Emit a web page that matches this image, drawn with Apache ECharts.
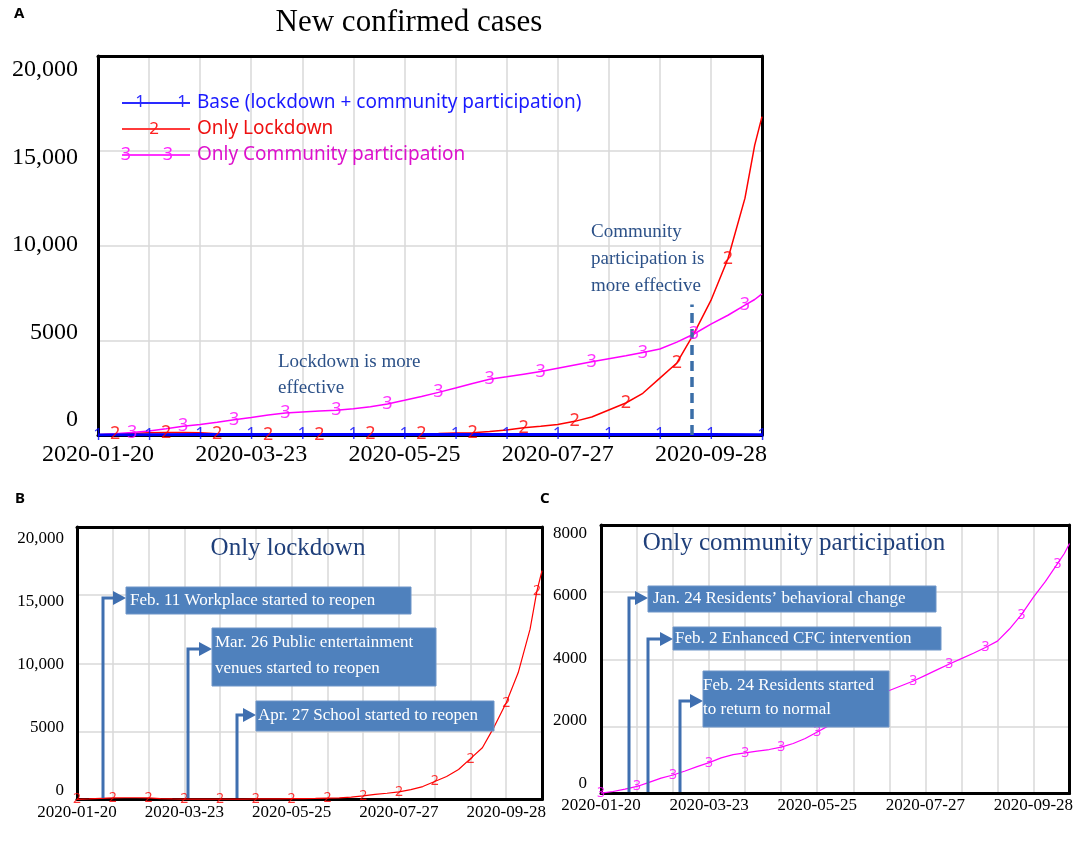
<!DOCTYPE html>
<html>
<head>
<meta charset="utf-8">
<script src="https://cdn.jsdelivr.net/npm/echarts@6/dist/echarts.min.js"></script>
<style>
  html, body { margin: 0; padding: 0; background: #fff; }
  #main { width: 1084px; height: 841px; }
</style>
</head>
<body>
<div id="main"></div>
<script>
// 图表容器
let chart = echarts.init(document.getElementById('main'));

// x轴：距2020-01-20的天数
let xTickLabels = ['2020-01-20', '2020-03-23', '2020-05-25', '2020-07-27', '2020-09-28'];
let yTickLabelsBig = ['0', '5000', '10,000', '15,000', '20,000'];
let yTickLabelsC = ['0', '2000', '4000', '6000', '8000'];

// 曲线采样日（每周一点，另加第270天）
let days = [0, 7, 14, 21, 28, 35, 42, 49, 56, 63, 70, 77, 84, 91, 98, 105, 112, 119, 126, 133,
    140, 147, 154, 161, 168, 175, 182, 189, 196, 203, 210, 217, 224, 231, 238, 245, 252, 259, 266, 270, 273];
// 只封城
let onlyLockdown = [10, 40, 80, 120, 130, 130, 120, 60, 40, 30, 30, 30, 30, 30, 30, 40, 40, 50, 60, 70,
    80, 100, 120, 180, 270, 380, 460, 560, 720, 950, 1320, 1690, 2200, 3000, 3800, 5350, 7100, 9300, 12500, 15300, 16800];
// 只社区参与
let onlyCommunity = [10, 60, 130, 210, 330, 460, 550, 670, 800, 920, 1060, 1160, 1210, 1260, 1310, 1380, 1490, 1640, 1830, 2030,
    2250, 2480, 2720, 2940, 3070, 3210, 3350, 3520, 3690, 3860, 4020, 4180, 4350, 4540, 4900, 5330, 5850, 6320, 6850, 7150, 7450];
// 基准（封城+社区参与）
let baseDays = [0, 21, 42, 63, 84, 105, 126, 147, 168, 189, 210, 231, 252, 273];
let base = [0, 15, 20, 20, 20, 20, 20, 20, 20, 20, 20, 20, 20, 15];

// 数字标记所在的天
let markRedA = [7, 28, 49, 70, 91, 112, 133, 154, 175, 196, 217, 238, 259];
let markPinkA = [14, 35, 56, 77, 98, 119, 140, 161, 182, 203, 224, 245, 266];
let markRedB = [0, 21, 42, 63, 84, 105, 126, 147, 168, 189, 210, 231, 252, 270];
let markPinkC = [0, 21, 42, 63, 84, 105, 126, 147, 161, 182, 203, 224, 245, 266];

// 虚线位置
let dashDay = 244;
let dashTop = 6880;

let serif = '"Liberation Serif", "Times New Roman", serif';
let sans = '"Noto Sans", "DejaVu Sans", sans-serif';
let annoBlue = '#2c5188';

function pairs(xs, ys) {
    let res = [];
    for (let i = 0; i < xs.length; i++) res.push([xs[i], ys[i]]);
    return res;
}
function pick(xs, ys, marks) {
    let res = [];
    for (let i = 0; i < marks.length; i++) {
        let k = xs.indexOf(marks[i]);
        if (k >= 0) res.push([xs[k], ys[k]]);
    }
    return res;
}

function xAxis(gridIndex, fontSize, margin) {
    return {
        type: 'value', gridIndex: gridIndex, min: 0, max: 273, interval: 21,
        axisLine: {show: true, onZero: false, lineStyle: {color: '#000', width: 3}}, axisTick: {show: false},
        splitLine: {show: true, lineStyle: {color: '#d9d9d9', width: 1.5}},
        axisLabel: {
            margin: margin, color: '#000', fontFamily: serif, fontSize: fontSize,
            showMinLabel: true, showMaxLabel: true,
            formatter: function (v) { return v % 63 === 0 ? (xTickLabels[v / 63] || '') : ''; }
        }
    };
}
// 只画边框的轴（上、右）
function frameAxis(gridIndex, position) {
    return {
        type: 'value', gridIndex: gridIndex, position: position, min: 0, max: 1,
        axisLine: {show: true, onZero: false, lineStyle: {color: '#000', width: 3}},
        axisTick: {show: false}, axisLabel: {show: false}, splitLine: {show: false}
    };
}
function yGridAxis(gridIndex, max, interval) {
    return {
        type: 'value', gridIndex: gridIndex, min: 0, max: max, interval: interval,
        axisLine: {show: true, onZero: false, lineStyle: {color: '#000', width: 3}},
        axisTick: {show: false}, axisLabel: {show: false},
        splitLine: {show: true, lineStyle: {color: '#d9d9d9', width: 1.5}}
    };
}
function yLabelAxis(gridIndex, min, max, step, labels, fontSize, margin) {
    let vals = [];
    for (let i = 0; i < labels.length; i++) vals.push(i * step);
    return {
        type: 'value', gridIndex: gridIndex, min: min, max: max, position: 'left',
        axisLine: {show: false}, axisTick: {show: false}, splitLine: {show: false},
        axisLabel: {
            customValues: vals, margin: margin, color: '#000', fontFamily: serif, fontSize: fontSize,
            formatter: function (v) { return labels[Math.round(v / step)]; }
        }
    };
}
function digits(name, xi, yi, data, text, color, size) {
    return {
        name: name, type: 'scatter', xAxisIndex: xi, yAxisIndex: yi, data: data,
        symbol: 'circle', symbolSize: 1, silent: true, z: 5,
        itemStyle: {color: 'rgba(0,0,0,0)'},
        label: {show: true, position: 'inside', formatter: text, color: color, fontSize: size, fontFamily: sans},
        emphasis: {disabled: true}
    };
}
function curve(xi, yi, data, color, width, z) {
    return {
        type: 'line', xAxisIndex: xi, yAxisIndex: yi, data: data, showSymbol: false, symbol: 'none',
        smooth: false, silent: true, z: z,
        lineStyle: {color: color, width: width}
    };
}

// 带箭头的折线 + 蓝框说明
function callout(x, yBottom, yArrow, tip, box, lines, lineYs, textX) {
    let els = [
        {type: 'polyline', z: 50, shape: {points: [[x, yBottom], [x, yArrow], [tip - 12, yArrow]]},
            style: {stroke: '#3f6fb0', lineWidth: 3, fill: null}},
        {type: 'polygon', z: 50, shape: {points: [[tip - 13, yArrow - 7], [tip, yArrow], [tip - 13, yArrow + 7]]},
            style: {fill: '#3f6fb0'}},
        {type: 'rect', z: 50, shape: {x: box[0], y: box[1], width: box[2], height: box[3]},
            style: {fill: '#4f81bd', stroke: '#6f95c8', lineWidth: 1}}
    ];
    for (let i = 0; i < lines.length; i++) {
        els.push({type: 'text', z: 51, style: {
            text: lines[i], x: textX, y: lineYs[i], fill: '#fff', font: '17px ' + serif,
            align: 'left', verticalAlign: 'middle', textAlign: 'left', textVerticalAlign: 'middle'}});
    }
    return els;
}
function label(text, x, y, font, color, align) {
    return {type: 'text', z: 60, style: {
        text: text, x: x, y: y, font: font, fill: color,
        align: align || 'left', verticalAlign: 'middle', textAlign: align || 'left', textVerticalAlign: 'middle'}};
}

let legendGraphic = [
    {type: 'line', z: 60, shape: {x1: 122, y1: 103, x2: 190, y2: 103}, style: {stroke: '#2a2aff', lineWidth: 2}},
    label('1', 140, 102, '17px ' + sans, '#2a2aff', 'center'),
    label('1', 182, 102, '17px ' + sans, '#2a2aff', 'center'),
    label('Base (lockdown + community participation)', 197, 103, '19px ' + sans, '#1a1aff'),
    {type: 'line', z: 60, shape: {x1: 122, y1: 129, x2: 190, y2: 129}, style: {stroke: '#ff3b3b', lineWidth: 2}},
    label('2', 154, 129, '17px ' + sans, '#ff2020', 'center'),
    label('Only Lockdown', 197, 129, '19px ' + sans, '#ee1111'),
    {type: 'line', z: 60, shape: {x1: 122, y1: 155, x2: 190, y2: 155}, style: {stroke: '#ff33ff', lineWidth: 2}},
    label('3', 126, 155, '18px ' + sans, '#ff22ff', 'center'),
    label('3', 168, 155, '18px ' + sans, '#ff22ff', 'center'),
    label('Only Community participation', 197, 155, '19px ' + sans, '#dd11cc')
];

let graphic = [].concat(
    [
        label('A', 14, 14, 'bold 15px ' + sans, '#000'),
        label('B', 15, 499, 'bold 15px ' + sans, '#000'),
        label('C', 540, 499, 'bold 15px ' + sans, '#000'),
        label('New confirmed cases', 409, 23, '31px ' + serif, '#000', 'center'),
        label('Community', 591, 232, '19px ' + serif, annoBlue),
        label('participation is', 591, 259, '19px ' + serif, annoBlue),
        label('more effective', 591, 286, '19px ' + serif, annoBlue),
        label('Lockdown is more', 278, 362, '19px ' + serif, annoBlue),
        label('effective', 278, 388, '19px ' + serif, annoBlue),
        label('Only lockdown', 288, 548, '25px ' + serif, '#1f3f7a', 'center'),
        label('Only community participation', 794, 543, '25px ' + serif, '#1f3f7a', 'center')
    ],
    legendGraphic,
    callout(103, 798, 598, 126, [126, 587, 285, 27], ['Feb. 11 Workplace started to reopen'], [600.5], 130),
    callout(188, 798, 649, 212, [212, 628, 224, 58], ['Mar. 26 Public entertainment', 'venues started to reopen'], [643, 669], 215),
    callout(237, 798, 715, 256, [256, 701, 238, 30], ['Apr. 27 School started to reopen'], [715.5], 258),
    callout(629, 792, 598, 648, [648, 586, 288, 26], ['Jan. 24 Residents\u2019 behavioral change'], [599], 653),
    callout(648, 792, 639, 673, [673, 627, 268, 23], ['Feb. 2 Enhanced CFC intervention'], [638.5], 675),
    callout(680, 792, 701, 703, [703, 671, 186, 56], ['Feb. 24 Residents started', 'to return to normal'], [686, 710], 703)
);

let redData = pairs(days, onlyLockdown);
let pinkData = pairs(days, onlyCommunity);
let baseData = pairs(baseDays, base);

let pinkA = curve(0, 0, pinkData, '#ff00ff', 1.5, 3);
pinkA.markLine = {
    silent: true, symbol: 'none', label: {show: false},
    lineStyle: {color: '#3a6ea8', width: 3.5, type: [10, 6]},
    data: [[{coord: [dashDay, 0]}, {coord: [dashDay, dashTop]}]]
};

let option = {
    backgroundColor: '#fff',
    animation: false,
    grid: [
        {left: 98, top: 56, width: 664, height: 379, outerBoundsMode: 'none'},
        {left: 77, top: 527, width: 465, height: 272.5, outerBoundsMode: 'none'},
        {left: 601, top: 525, width: 468.5, height: 268.5, outerBoundsMode: 'none'}
    ],
    xAxis: [xAxis(0, 24, 8), xAxis(1, 17, 5), xAxis(2, 17, 4),
        frameAxis(0, 'top'), frameAxis(1, 'top'), frameAxis(2, 'top')],
    yAxis: [
        yGridAxis(0, 20000, 5000),
        yLabelAxis(0, -857, 20800, 5000, yTickLabelsBig, 24, 20),
        yGridAxis(1, 20000, 5000),
        yLabelAxis(1, -673, 20894, 5000, yTickLabelsBig, 17, 13),
        yGridAxis(2, 8000, 2000),
        yLabelAxis(2, -326, 8266, 2000, yTickLabelsC, 17, 14),
        frameAxis(0, 'right'), frameAxis(1, 'right'), frameAxis(2, 'right')
    ],
    graphic: graphic,
    series: [
        // A
        curve(0, 0, redData, '#ff0000', 1.5, 3),
        pinkA,
        curve(0, 0, baseData, '#0000ff', 3, 4),
        digits('redA', 0, 0, pick(days, onlyLockdown, markRedA), '2', '#ff0000', 18),
        digits('pinkA', 0, 0, pick(days, onlyCommunity, markPinkA), '3', '#ff00ff', 18),
        digits('baseA', 0, 0, baseData, '1', '#0000ff', 17),
        // B
        curve(1, 2, redData, '#ff0000', 1.2, 3),
        digits('redB', 1, 2, pick(days, onlyLockdown, markRedB), '2', '#ff0000', 14),
        // C
        curve(2, 4, pinkData, '#ff00ff', 1.2, 3),
        digits('pinkC', 2, 4, pick(days, onlyCommunity, markPinkC), '3', '#ff00ff', 14)
    ]
};
chart.setOption(option);
</script>
</body>
</html>
